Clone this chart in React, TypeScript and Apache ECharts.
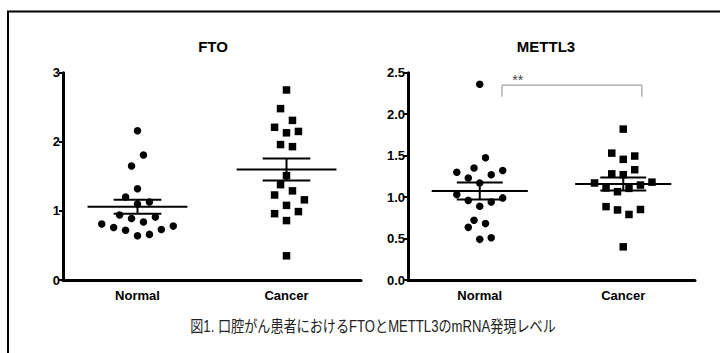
import React, { useEffect, useRef } from "react";
import * as echarts from "echarts";

const CATEGORIES = ["Normal", "Cancer"];
const CAT_X = [1, 3];
const PANEL_TITLES = ["FTO", "METTL3"];

const FTO_NORMAL = [2.16, 1.81, 1.65, 1.32, 1.2, 1.13, 1.1, 0.94, 0.89, 0.91, 0.84, 0.81, 0.76, 0.72, 0.73, 0.78, 0.64, 0.66];
const FTO_NORMAL_SLOT = [0, 1, -1, 0, -2, 2, 0, -3, -1, 3, 1, -6, -4, -2, 4, 6, 0, 2];
const FTO_CANCER = [2.75, 2.48, 2.31, 2.21, 2.13, 2.15, 1.96, 1.93, 1.51, 1.38, 1.29, 1.23, 1.16, 1.08, 0.99, 0.96, 0.86, 0.35];
const FTO_CANCER_SLOT = [0, -1, 1, -2, 0, 2, -1, 1, 0, -1, 1, -2, 3, 0, 2, -2, 0, 0];
const FTO_MEAN = [1.06, 1.6];
const FTO_SEM = [0.1, 0.16];

const METTL3_NORMAL = [2.36, 1.475, 1.3, 1.35, 1.32, 1.27, 1.23, 1.17, 1.03, 0.99, 0.96, 0.94, 0.89, 0.72, 0.68, 0.635, 0.49, 0.51];
const METTL3_NORMAL_SLOT = [0, 1, -4, -1, 4, 2, -2, 0, -4, 4, -2, 2, 0, -1, 1, -2, 0, 2];
const METTL3_CANCER = [1.82, 1.53, 1.455, 1.495, 1.33, 1.28, 1.27, 1.17, 1.18, 1.145, 1.105, 1.11, 1.065, 0.885, 0.845, 0.85, 0.79, 0.4];
const METTL3_CANCER_SLOT = [0, -2, 0, 2, 2, -2, 0, -5, 5, 3, 1, -3, -1, -3, -1, 3, 1, 0];
const METTL3_MEAN = [1.073, 1.158];
const METTL3_SEM = [0.103, 0.078];

const SIG_LABEL = "**";
const SIG_LABEL_POS = [1.53, 2.41];
const SIG_BRACKET = { x1: 1.31, x2: 3.26, top: 2.35, bottom: 2.21 };
const CAPTION = "図1. 口腔がん患者におけるFTOとMETTL3のmRNA発現レベル";

const SLOT = 0.08;
const FONT = "'Liberation Sans', Arial, sans-serif";

function points(vals: number[], slots: number[], cx: number) {
  return vals.map((v, i) => [cx + slots[i] * SLOT, v]);
}

function meanSemSeries(gi: number, means: number[], sems: number[]) {
  const out: any[] = [];
  means.forEach((m, i) => {
    const x = CAT_X[i];
    const s = sems[i];
    const segs = [
      [[x - 0.67, m], [x + 0.67, m]],
      [[x - 0.32, m + s], [x + 0.32, m + s]],
      [[x - 0.32, m - s], [x + 0.32, m - s]],
      [[x, m - s], [x, m + s]],
    ];
    segs.forEach((d) => {
      out.push({
        type: "line",
        xAxisIndex: gi * 2 + 1,
        yAxisIndex: gi,
        data: d,
        symbol: "none",
        lineStyle: { color: "#000", width: 2 },
        z: 5,
        silent: true,
      });
    });
  });
  return out;
}

export default function App() {
  const ref = useRef<HTMLDivElement>(null);
  useEffect(() => {
    const chart = echarts.init(ref.current!, null, { renderer: "svg" });
    const grids = [
      { left: 63, right: 359, top: 72.7, bottom: 73 },
      { left: 408, right: 25, top: 72.7, bottom: 73 },
    ];
    const xAxes: any[] = [];
    const yAxes: any[] = [];
    [0, 1].forEach((gi) => {
      xAxes.push({
        type: "category",
        gridIndex: gi,
        data: CATEGORIES,
        boundaryGap: true,
        axisLine: { lineStyle: { color: "#000", width: 3 } },
        axisTick: { alignWithLabel: true, length: 6, lineStyle: { color: "#000", width: 2 } },
        axisLabel: { color: "#000", fontFamily: FONT, fontWeight: "bold", fontSize: 13, margin: 9 },
        splitLine: { show: false },
      });
      xAxes.push({
        type: "value",
        gridIndex: gi,
        min: 0,
        max: 4,
        show: false,
        splitLine: { show: false },
      });
      yAxes.push({
        type: "value",
        gridIndex: gi,
        min: 0,
        max: gi === 0 ? 3 : 2.5,
        interval: gi === 0 ? 1 : 0.5,
        axisLine: { show: true, lineStyle: { color: "#000", width: 3 } },
        axisTick: { show: true, length: 4, lineStyle: { color: "#000", width: 2 } },
        axisLabel: {
          color: "#000",
          fontFamily: FONT,
          fontWeight: "bold",
          fontSize: 13,
          margin: 3,
          formatter: (v: number) => (gi === 0 ? String(v) : v.toFixed(1)),
        },
        splitLine: { show: false },
      });
    });

    const scatter = (gi: number, data: number[][], symbol: string) => ({
      type: "scatter",
      xAxisIndex: gi * 2 + 1,
      yAxisIndex: gi,
      data,
      symbol,
      symbolSize: 7.5,
      itemStyle: { color: "#000", opacity: 1 },
      z: 3,
    });

    const series: any[] = [
      scatter(0, points(FTO_NORMAL, FTO_NORMAL_SLOT, CAT_X[0]), "circle"),
      scatter(0, points(FTO_CANCER, FTO_CANCER_SLOT, CAT_X[1]), "rect"),
      scatter(1, points(METTL3_NORMAL, METTL3_NORMAL_SLOT, CAT_X[0]), "circle"),
      scatter(1, points(METTL3_CANCER, METTL3_CANCER_SLOT, CAT_X[1]), "rect"),
      ...meanSemSeries(0, FTO_MEAN, FTO_SEM),
      ...meanSemSeries(1, METTL3_MEAN, METTL3_SEM),
      {
        type: "line",
        xAxisIndex: 3,
        yAxisIndex: 1,
        data: [
          [SIG_BRACKET.x1, SIG_BRACKET.bottom],
          [SIG_BRACKET.x1, SIG_BRACKET.top],
          [SIG_BRACKET.x2, SIG_BRACKET.top],
          [SIG_BRACKET.x2, SIG_BRACKET.bottom],
        ],
        symbol: "none",
        lineStyle: { color: "#8a8a8a", width: 1 },
        silent: true,
      },
    ];

    chart.setOption({
      animation: false,
      backgroundColor: "#fff",
      title: PANEL_TITLES.map((t, i) => ({
        text: t,
        left: i === 0 ? 213 : 546,
        textAlign: "center",
        top: 39,
        padding: 0,
        textStyle: { color: "#000", fontFamily: FONT, fontWeight: "bold", fontSize: 15 },
      })),
      grid: grids,
      xAxis: xAxes,
      yAxis: yAxes,
      series,
    });

    const sigPx = chart.convertToPixel({ xAxisIndex: 3, yAxisIndex: 1 } as any, SIG_LABEL_POS) as number[];

    chart.setOption({
      graphic: [
        {
          type: "rect",
          shape: { x: 8, y: 11.5, width: 800, height: 400 },
          style: { fill: "none", stroke: "#000", lineWidth: 2 },
          silent: true,
        },
        {
          type: "text",
          x: sigPx[0],
          y: sigPx[1],
          style: {
            text: SIG_LABEL,
            fill: "#444",
            font: "14px 'Liberation Sans', Arial, sans-serif",
            textAlign: "center",
            textVerticalAlign: "middle",
          },
        },
        {
          type: "text",
          x: 373,
          y: 327,
          scaleX: 0.82,
          style: {
            text: CAPTION,
            fill: "#222",
            font: "16px 'Liberation Sans', 'Noto Sans CJK JP', sans-serif",
            textAlign: "center",
            textVerticalAlign: "middle",
          },
        },
      ],
    });
    return () => chart.dispose();
  }, []);
  return <div ref={ref} style={{ position: "fixed", left: 0, top: 0, width: 720, height: 353 }} />;
}
